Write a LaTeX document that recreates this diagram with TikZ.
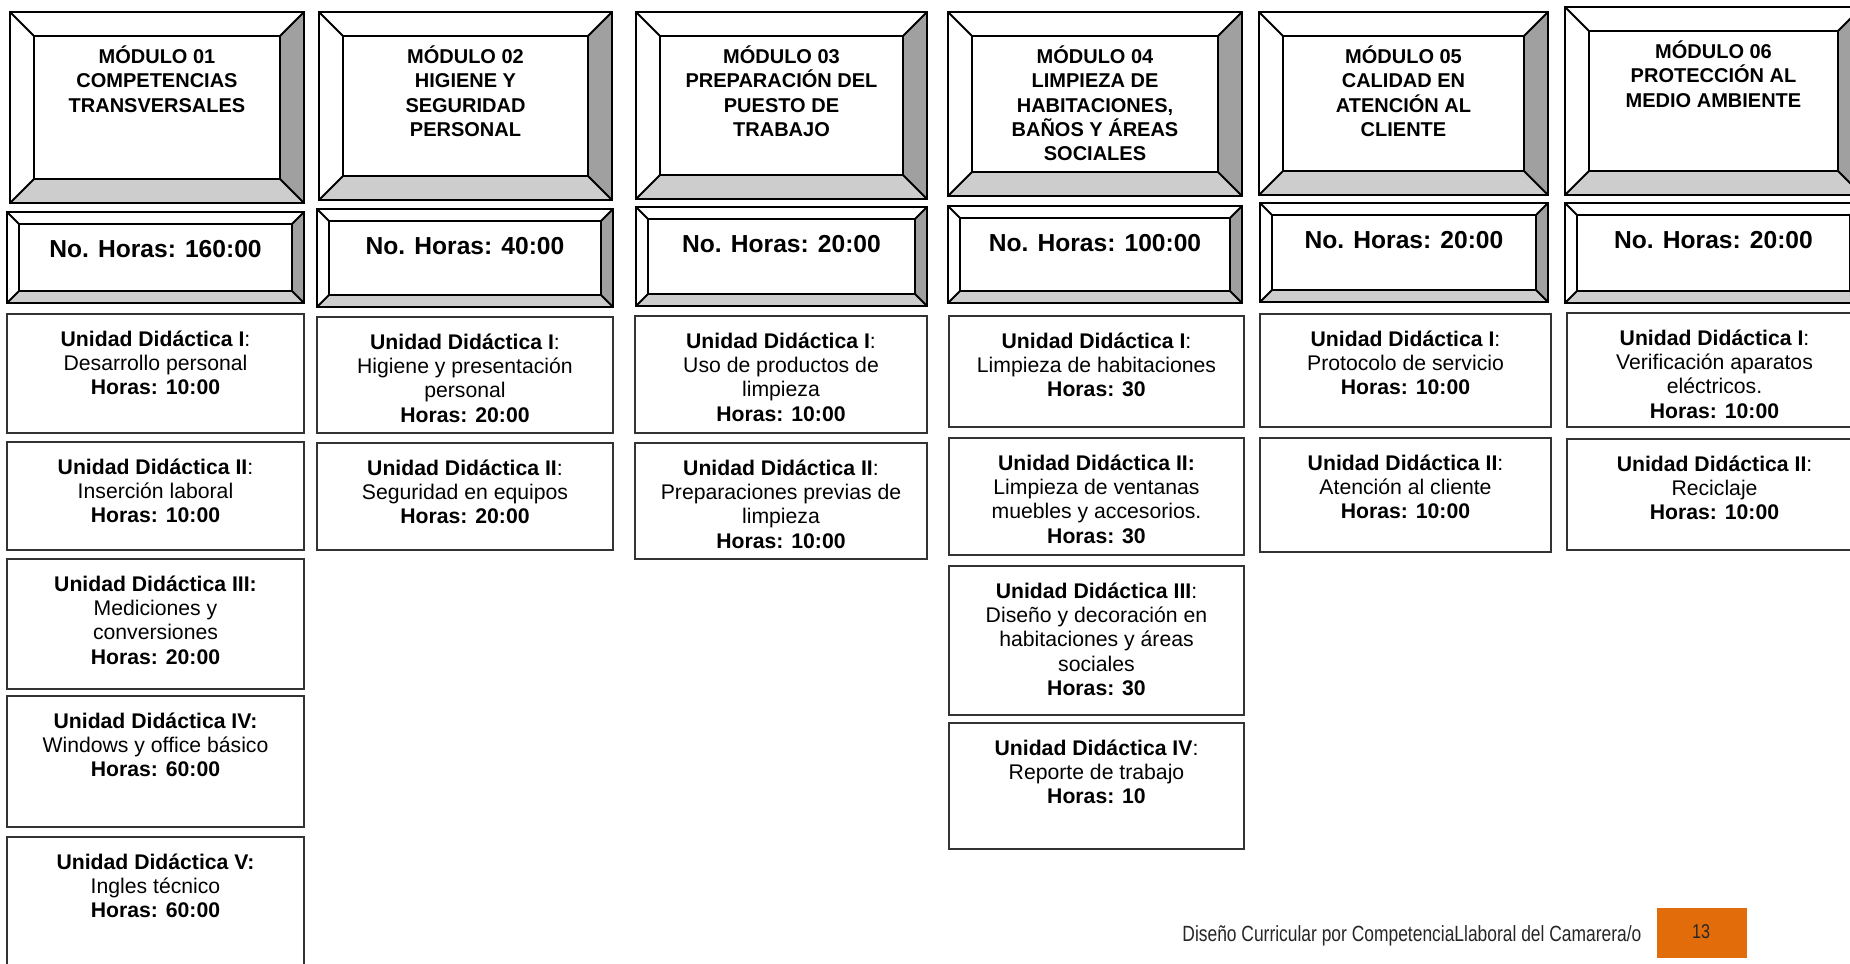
\documentclass[tikz,border=0pt]{standalone}
\usepackage{fontspec}
\setmainfont{Liberation Sans}
\usepackage{graphicx}
\definecolor{bevR}{HTML}{A0A0A0}
\definecolor{bevB}{HTML}{CDCDCD}
\definecolor{pageorange}{HTML}{E36C0A}
\newcommand\tightlines{\lineskiplimit=-20pt\relax}
\tikzset{
  edgeline/.style={draw=black, line width=1pt, line join=miter},
  unitbox/.style={draw=black!80, line width=1pt},
  modtext/.style={anchor=north, inner sep=0pt, align=center, font={\fontsize{10}{12.15}\selectfont\bfseries\tightlines}},
  hrstext/.style={anchor=base, inner sep=0pt, font=\fontsize{12.3}{15}\selectfont\bfseries},
  unittext/.style={anchor=north, inner sep=0pt, align=center, font={\fontsize{10.6}{12.2}\selectfont\tightlines}},
}
% #1 name, #2 x1, #3 y1, #4 x2, #5 y2, #6 bevel
\newcommand\bevelbox[6]{%
  \fill[white] (#2,#3) rectangle (#4,#5);
  \fill[bevR] (#4,#3) -- (#4,#5) -- ({#4-#6},{#5-#6}) -- ({#4-#6},{#3+#6}) -- cycle;
  \fill[bevB] (#2,#5) -- (#4,#5) -- ({#4-#6},{#5-#6}) -- ({#2+#6},{#5-#6}) -- cycle;
  \draw[edgeline] (#2,#3) coordinate (#1-nw) rectangle (#4,#5) coordinate (#1-se);
  \draw[edgeline] ({#2+#6},{#3+#6}) rectangle ({#4-#6},{#5-#6});
  \draw[edgeline] (#2,#3) -- ({#2+#6},{#3+#6});
  \draw[edgeline] (#4,#3) -- ({#4-#6},{#3+#6});
  \draw[edgeline] (#2,#5) -- ({#2+#6},{#5-#6});
  \draw[edgeline] (#4,#5) -- ({#4-#6},{#5-#6});
}
% #1 name, #2 x1, #3 y1, #4 x2, #5 y2, #6 text
\newcommand\unitcell[6]{%
  \draw[unitbox] (#2,#3) rectangle (#4,#5);
  \node[unittext] (#1) at ({(#2+#4)/2},{#3+14.6}) {\strut #6};
}
\begin{document}
\begin{tikzpicture}[x=0.5pt,y=-0.5pt]
\useasboundingbox (0,0) rectangle (1850,963);
\clip (0,0) rectangle (1850,963);

% ---- module headers
\bevelbox{m1}{10}{12}{304}{203}{24}
\bevelbox{m2}{319}{12}{612}{200}{24}
\bevelbox{m3}{636}{12}{927}{199}{24}
\bevelbox{m4}{948}{12}{1242}{196}{24}
\bevelbox{m5}{1259}{12}{1548}{195}{24}
\bevelbox{m6}{1565}{7}{1862}{195}{24}
\node[modtext] (m1t) at (157,45.5) {\strut MÓDULO 01\\COMPETENCIAS\\TRANSVERSALES};
\node[modtext] (m2t) at (465.5,45.5) {\strut MÓDULO 02\\HIGIENE Y\\SEGURIDAD\\PERSONAL};
\node[modtext] (m3t) at (781.5,45.5) {\strut MÓDULO 03\\PREPARACIÓN DEL\\PUESTO DE\\TRABAJO};
\node[modtext] (m4t) at (1095,45.5) {\strut MÓDULO 04\\LIMPIEZA DE\\HABITACIONES,\\BAÑOS Y ÁREAS\\SOCIALES};
\node[modtext] (m5t) at (1403.5,45.5) {\strut MÓDULO 05\\CALIDAD EN\\ATENCIÓN AL\\CLIENTE};
\node[modtext] (m6t) at (1713.5,40.5) {\strut MÓDULO 06\\PROTECCIÓN AL\\MEDIO AMBIENTE};

% ---- hours
\bevelbox{h1}{7}{212}{304}{303}{12}
\bevelbox{h2}{317}{209}{613}{307}{12}
\bevelbox{h3}{636}{207}{927}{306}{12}
\bevelbox{h4}{948}{206}{1242}{303}{12}
\bevelbox{h5}{1260}{203}{1548}{302}{12}
\bevelbox{h6}{1565}{203}{1862}{303}{12}
\node[hrstext] (h1t) at (155.5,257) {No. Horas: 160:00};
\node[hrstext] (h2t) at (465,254) {No. Horas: 40:00};
\node[hrstext] (h3t) at (781.5,252) {No. Horas: 20:00};
\node[hrstext] (h4t) at (1095,251) {No. Horas: 100:00};
\node[hrstext] (h5t) at (1404,248) {No. Horas: 20:00};
\node[hrstext] (h6t) at (1713.5,248) {No. Horas: 20:00};

% ---- column 1
\unitcell{c1u1}{7}{314}{304}{433}{\textbf{Unidad Didáctica I}:\\Desarrollo personal\\\textbf{Horas: 10:00}}
\unitcell{c1u2}{7}{442}{304}{550}{\textbf{Unidad Didáctica II}:\\Inserción laboral\\\textbf{Horas: 10:00}}
\unitcell{c1u3}{7}{559}{304}{689}{\textbf{Unidad Didáctica III:}\\Mediciones y\\conversiones\\\textbf{Horas: 20:00}}
\unitcell{c1u4}{7}{696}{304}{827}{\textbf{Unidad Didáctica IV:}\\Windows y office básico\\\textbf{Horas: 60:00}}
\unitcell{c1u5}{7}{837}{304}{990}{\textbf{Unidad Didáctica V:}\\Ingles técnico\\\textbf{Horas: 60:00}}

% ---- column 2
\unitcell{c2u1}{317}{317}{613}{433}{\textbf{Unidad Didáctica I}:\\Higiene y presentación\\personal\\\textbf{Horas: 20:00}}
\unitcell{c2u2}{317}{443}{613}{550}{\textbf{Unidad Didáctica II}:\\Seguridad en equipos\\\textbf{Horas: 20:00}}

% ---- column 3
\unitcell{c3u1}{635}{316}{927}{433}{\textbf{Unidad Didáctica I}:\\Uso de productos de\\limpieza\\\textbf{Horas: 10:00}}
\unitcell{c3u2}{635}{443}{927}{559}{\textbf{Unidad Didáctica II}:\\Preparaciones previas de\\limpieza\\\textbf{Horas: 10:00}}

% ---- column 4
\unitcell{c4u1}{949}{316}{1244}{427}{\textbf{Unidad Didáctica I}:\\Limpieza de habitaciones\\\textbf{Horas: 30}}
\unitcell{c4u2}{949}{438}{1244}{555}{\textbf{Unidad Didáctica II:}\\Limpieza de ventanas\\muebles y accesorios.\\\textbf{Horas: 30}}
\unitcell{c4u3}{949}{566}{1244}{715}{\textbf{Unidad Didáctica III}:\\Diseño y decoración en\\habitaciones y áreas\\sociales\\\textbf{Horas: 30}}
\unitcell{c4u4}{949}{723}{1244}{849}{\textbf{Unidad Didáctica IV}:\\Reporte de trabajo\\\textbf{Horas: 10}}

% ---- column 5
\unitcell{c5u1}{1260}{314}{1551}{427}{\textbf{Unidad Didáctica I}:\\Protocolo de servicio\\\textbf{Horas: 10:00}}
\unitcell{c5u2}{1260}{438}{1551}{552}{\textbf{Unidad Didáctica II}:\\Atención al cliente\\\textbf{Horas: 10:00}}

% ---- column 6
\unitcell{c6u1}{1567}{313}{1862}{427}{\textbf{Unidad Didáctica I}:\\Verificación aparatos\\eléctricos.\\\textbf{Horas: 10:00}}
\unitcell{c6u2}{1567}{439}{1862}{550}{\textbf{Unidad Didáctica II}:\\Reciclaje\\\textbf{Horas: 10:00}}

% ---- footer
\node[anchor=base west, inner sep=0pt, text=black!85, font=\fontsize{11}{13}\selectfont] (footer) at (1182,941)
  {\resizebox{229.5pt}{\height}{Diseño Curricular por CompetenciaLlaboral del Camarera/o}};
\node[anchor=north west, fill=pageorange, inner sep=0pt, minimum width=45pt, minimum height=25pt] (pagebox) at (1657,908) {};
\node[anchor=base, inner sep=0pt, text=black!85, font=\fontsize{10}{12}\selectfont] (pagenum) at (1701,938)
  {\resizebox{9pt}{\height}{13}};
\end{tikzpicture}
\end{document}
